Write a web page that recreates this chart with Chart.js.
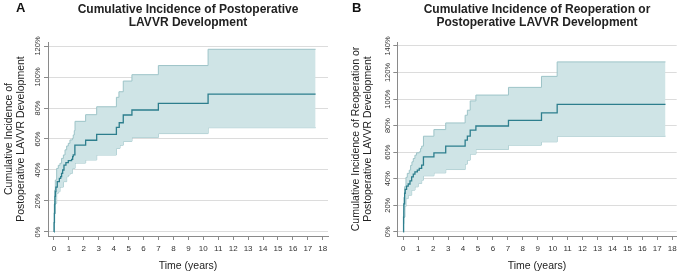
<!DOCTYPE html>
<html>
<head>
<meta charset="utf-8">
<script src="https://cdn.jsdelivr.net/npm/chart.js@4.4.0/dist/chart.umd.min.js"></script>
<style>
  body { margin: 0; background: #fff; }
  .wrap { position: relative; width: 684px; height: 275px; }
  .panel { position: absolute; top: 0; width: 342px; height: 275px; }
  .letter { position: absolute; top: 1px; font: bold 13px/13px "Liberation Sans", Arial, sans-serif; color: #111; }
</style>
</head>
<body>
<div class="wrap">
  <div class="panel" style="left:0"><canvas id="chart-a" width="342" height="275"></canvas></div>
  <div class="panel" style="left:342px"><canvas id="chart-b" width="342" height="275"></canvas></div>
  <div class="letter" style="left:16px">A</div>
  <div class="letter" style="left:352px">B</div>
</div>
<script>
// Panel A: postoperative LAVVR (time in years, cumulative incidence in %)
const timeA = [0, 0.01, 0.03, 0.05, 0.07, 0.10, 0.13, 0.22, 0.36, 0.45, 0.51, 0.58, 0.67, 0.80, 0.96, 1.18, 1.25, 1.29, 1.40, 2.12, 2.86, 4.18, 4.37, 4.64, 5.22, 6.99, 10.32, 17.52];
const incA = [0, 6, 12, 18, 23, 26, 29, 32.5, 34.6, 35.7, 37.8, 40, 43.2, 44.7, 46, 46.9, 48.6, 49.7, 56, 59.2, 63, 67.5, 70.5, 75.5, 78.7, 83, 89, 89];
const timeUpperA = [0, 0.02, 0.04, 0.09, 0.18, 0.29, 0.40, 0.51, 0.63, 0.74, 0.85, 0.96, 1.07, 1.23, 1.29, 1.36, 1.41, 2.12, 2.86, 4.18, 4.35, 4.64, 5.22, 6.99, 10.32, 17.52];
const upperA = [0, 18, 27, 33.5, 41, 43, 44.3, 47.5, 49.7, 53, 55.5, 57.2, 59.4, 60.4, 62.6, 65.4, 71.4, 75.7, 80.8, 86.9, 90.5, 97.4, 101.5, 107.4, 117.9, 117.9];
const timeLowerA = [0, 0.02, 0.04, 0.09, 0.18, 0.29, 0.40, 0.63, 0.85, 0.96, 1.07, 1.23, 1.41, 2.12, 2.86, 4.18, 4.42, 4.64, 5.22, 6.99, 10.32, 17.52];
const lowerA = [0, 6, 12, 18.5, 25, 26, 29, 32.5, 35.7, 36.8, 37.8, 41, 44.5, 46.5, 49.7, 54, 56, 58.5, 61, 63.5, 67.3, 67.3];

// Panel B: reoperation or postoperative LAVVR
const timeB = [0, 0.02, 0.04, 0.09, 0.13, 0.22, 0.33, 0.45, 0.56, 0.67, 0.78, 0.94, 1.07, 1.23, 1.35, 2.05, 2.84, 4.14, 4.29, 4.48, 4.86, 7.04, 9.25, 10.3, 17.55];
const incB = [0, 11, 21, 29, 32, 34.4, 36, 38.4, 41.4, 43.4, 45.2, 46.4, 47.7, 50.2, 56.5, 59.5, 64.5, 69, 72, 76.6, 79.7, 84, 89.6, 96, 96];
const timeUpperB = [0, 0.02, 0.04, 0.09, 0.18, 0.27, 0.40, 0.49, 0.58, 0.67, 0.78, 0.89, 1.07, 1.16, 1.23, 1.35, 2.05, 2.84, 4.14, 4.29, 4.48, 4.86, 7.04, 9.25, 10.3, 17.55];
const upperB = [0, 16, 26, 34, 41, 44, 46.4, 50, 52.7, 55.2, 57.7, 59.5, 60.2, 62.7, 64.5, 72, 77, 82, 87.8, 91.6, 98.6, 103, 108.8, 117.1, 128, 128];
const timeLowerB = [0, 0.02, 0.04, 0.11, 0.18, 0.33, 0.56, 0.78, 1.0, 1.23, 1.35, 2.05, 2.84, 4.14, 4.29, 4.48, 4.86, 7.04, 9.25, 10.3, 17.55];
const lowerB = [0, 6, 11, 19, 25, 27.6, 31.4, 33.9, 36.4, 38.9, 42.2, 44.4, 46.9, 51, 54, 58.5, 62, 65.3, 67.8, 72, 72];

const titleA = ['Cumulative Incidence of Postoperative', 'LAVVR Development'];
const titleB = ['Cumulative Incidence of Reoperation or', 'Postoperative LAVVR Development'];
const yTitleA = ['Cumulative Incidence of', 'Postoperative LAVVR Development'];
const yTitleB = ['Cumulative Incidence of Reoperation or', 'Postoperative LAVVR Development'];
const xTitle = 'Time (years)';

Chart.defaults.font.family = '"Liberation Sans", Arial, Helvetica, sans-serif';

const FILL = '#cfe4e6';
const CI_LINE = '#9dc4c8';
const MAIN_LINE = '#2d7e8d';

const toPoints = function(xs, ys) {
  return xs.map((x, i) => ({ x: x, y: ys[i] }));
};

const buildChart = function(canvasId, cfg) {
  const ctx = document.getElementById(canvasId).getContext('2d');
  return new Chart(ctx, {
    type: 'line',
    data: {
      datasets: [
        {
          data: toPoints(cfg.time, cfg.inc),
          borderColor: MAIN_LINE, borderWidth: 1.3,
          stepped: true, pointRadius: 0, fill: false, order: 0
        },
        {
          data: toPoints(cfg.timeUpper, cfg.upper),
          borderColor: CI_LINE, borderWidth: 1,
          backgroundColor: FILL,
          stepped: true, pointRadius: 0, fill: '+1', order: 1
        },
        {
          data: toPoints(cfg.timeLower, cfg.lower),
          borderColor: CI_LINE, borderWidth: 1,
          stepped: true, pointRadius: 0, fill: false, order: 2
        }
      ]
    },
    options: {
      responsive: false,
      animation: false,
      devicePixelRatio: 1,
      layout: { padding: { left: 0, right: cfg.padRight, top: 0, bottom: 0 } },
      plugins: {
        legend: { display: false },
        tooltip: { enabled: false },
        title: {
          display: true,
          fullSize: false,
          text: cfg.title,
          color: '#222',
          font: { size: 12, weight: 'bold', lineHeight: 1.125 },
          padding: { top: 2.5, bottom: 12.5 }
        }
      },
      scales: {
        x: {
          type: 'linear',
          min: -0.4,
          max: cfg.xMax,
          afterFit: function(scale) { scale.height = 39; },
          grid: { drawOnChartArea: false, drawTicks: true, tickLength: 4, color: '#8a8a8a' },
          border: { display: true, color: '#8a8a8a', width: 1 },
          ticks: {
            stepSize: 1, includeBounds: false, autoSkip: false,
            maxRotation: 0, padding: 4, color: '#333',
            font: { size: 8 }
          },
          title: {
            display: true, text: xTitle, color: '#222',
            font: { size: 10.5 }, padding: { top: 0, bottom: 2.3 }
          }
        },
        y: {
          min: cfg.yMin,
          max: cfg.yMax,
          afterFit: function(scale) { scale.width = cfg.yWidth; },
          grid: { color: '#dcdcdc', tickColor: '#8a8a8a', tickLength: 4 },
          border: { display: true, color: '#8a8a8a', width: 1 },
          ticks: {
            stepSize: 20, includeBounds: false,
            minRotation: 90, maxRotation: 90,
            crossAlign: 'center', padding: -4,
            color: '#333', font: { size: 7.5 },
            callback: function(v) { return v + '%'; }
          },
          title: {
            display: true, text: cfg.yTitle, color: '#222',
            font: { size: 10.5, lineHeight: 1.2 },
            padding: { top: cfg.yTitlePad, bottom: 0 }
          }
        }
      }
    }
  });
};

buildChart('chart-a', {
  time: timeA, inc: incA, timeUpper: timeUpperA, upper: upperA, timeLower: timeLowerA, lower: lowerA,
  title: titleA, yTitle: yTitleA, yTitlePad: 2.5,
  yMin: -2.6, yMax: 122.6, xMax: 18.35, yWidth: 48, padRight: 14
});

buildChart('chart-b', {
  time: timeB, inc: incB, timeUpper: timeUpperB, upper: upperB, timeLower: timeLowerB, lower: lowerB,
  title: titleB, yTitle: yTitleB, yTitlePad: 7.5,
  yMin: -3.2, yMax: 143, xMax: 18.3, yWidth: 55.3, padRight: 7.3
});
</script>
</body>
</html>
